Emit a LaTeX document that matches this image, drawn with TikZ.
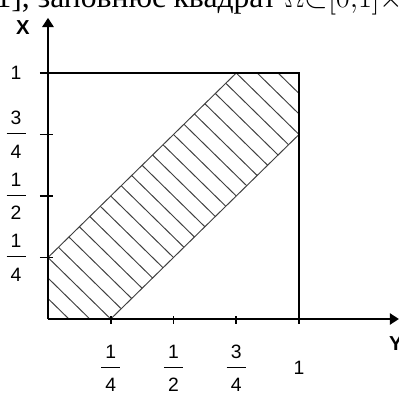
\documentclass[tikz,border=0pt]{standalone}
\usepackage{fontspec}
\setmainfont{Liberation Sans}
\newfontfamily\headfont{Liberation Serif}
\usetikzlibrary{arrows.meta,positioning}
\setlength{\arrayrulewidth}{0.65pt}
\newcommand{\frc}[2]{\begin{tabular}{@{\hspace{2.4pt}}c@{\hspace{2.4pt}}}\rule[-5pt]{0pt}{16.6pt}#1\\\hline\rule{0pt}{13.4pt}#2\end{tabular}}

\begin{document}
\begin{tikzpicture}[x=5.02cm, y=4.92cm, every node/.style={font=\fontsize{11}{13}\selectfont, inner sep=0pt},
  axis/.style={line width=0.9pt, -{Triangle[length=5.2pt, width=6.5pt]}},
  edge/.style={line width=0.9pt}, tickmark/.style={line width=0.9pt},
  hatch/.style={line width=0.55pt, black!75}, axlabel/.style={font=\fontsize{11.5}{13}\selectfont\bfseries}]
\useasboundingbox (-0.1912,-0.3130) rectangle (1.3984,1.2967);
\clip (-0.1912,-0.3130) rectangle (1.3984,1.2967);
\node[anchor=base west, font=\headfont\fontsize{18}{22}\selectfont] (head) at (-0.21,1.2642) {1], заповнює квадрат $\Omega{\subset}[0{,}1]{\times}[$};
\coordinate (O) at (0,0);
\coordinate (tipX) at (0,1.224);
\coordinate (tipY) at (1.398,0);
\coordinate (A) at (0,0.25);
\coordinate (B) at (0.75,1);
\coordinate (C) at (1,1);
\coordinate (D) at (1,0.75);
\coordinate (E) at (0.25,0);
\begin{scope}
\clip (O) -- (E) -- (D) -- (C) -- (B) -- (A) -- cycle;
\foreach \k in {1,...,23}
  \draw[hatch] (\k/12,0) -- (0,\k/12);
\end{scope}
\draw[hatch] (A) -- (B);
\draw[hatch] (E) -- (D);
\draw[axis] (O) -- (tipX);
\draw[axis] (O) -- (tipY);
\draw[edge] (-0.032,1) -- (C) -- (1,-0.02);
\foreach \v in {0.25,0.5,0.75}
  \draw[tickmark] (-0.032,\v) -- (0.02,\v);
\foreach \u in {0.25,0.5,0.75}
  \draw[tickmark] (\u,-0.02) -- (\u,0.012);
\node[axlabel] (lblX) at (-0.1,1.183) {X};
\node[axlabel] (lblY) at (1.386,-0.098) {Y};
\node (v1) at (-0.127,1) {1};
\node (v34) at (-0.127,0.75) {\frc{3}{4}};
\node (v12) at (-0.127,0.5) {\frc{1}{2}};
\node (v14) at (-0.127,0.25) {\frc{1}{4}};
\node (h14) at (0.25,-0.2) {\frc{1}{4}};
\node (h12) at (0.5,-0.2) {\frc{1}{2}};
\node (h34) at (0.75,-0.2) {\frc{3}{4}};
\node (h1) at (1,-0.2) {1};
\end{tikzpicture}
\end{document}
